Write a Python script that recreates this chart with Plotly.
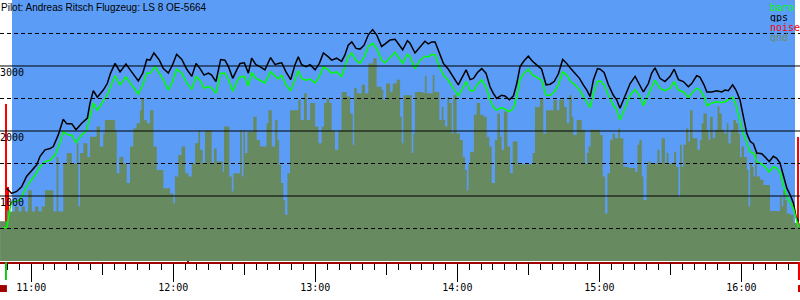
import plotly.graph_objects as go
import pandas as pd

# ---------------- data (time in minutes after 10:00, altitude in m) ----------------
t_gps = [49.6, 51.7, 53.8, 55.9, 58.0, 60.2, 62.3, 63.7, 65.8, 67.9, 69.3, 71.4, 73.5, 75.0, 77.1, 78.9,
         81.3, 83.7, 84.8, 86.2, 87.9, 90.4, 92.1, 93.5, 95.4, 97.5, 100.0, 102.4, 105.2, 107.1, 108.8,
         110.2, 111.8, 114.1, 115.8, 117.9, 119.7, 121.4, 123.6, 125.7, 127.8, 129.6,
         131.3, 133.0, 134.8, 136.2, 138.0, 140.0, 141.8, 143.3, 145.1, 146.8, 148.2, 150.0, 151.7, 153.1,
         154.9, 156.6, 158.7, 161.1, 163.0, 164.4, 165.8, 167.6, 169.6, 171.4, 172.8, 174.2, 176.1, 177.8,
         179.9, 181.7, 183.4, 185.5, 186.9, 189.0, 191.1, 192.5, 193.9, 195.4, 197.2, 198.9, 200.6, 202.4,
         204.2, 205.9, 208.0, 209.5, 211.6, 213.7,
         215.8, 216.9, 218.9, 220.0, 222.1, 224.2, 226.3, 227.7, 229.2, 230.6, 232.4, 234.1, 236.2, 238.3,
         240.4, 241.8, 243.7, 245.4, 246.8, 248.5, 250.3, 252.1, 253.8, 255.2, 256.6, 258.7, 260.1, 262.0,
         263.7, 265.1, 266.5, 268.2, 270.0, 271.8, 273.5, 275.6, 277.5, 279.2, 280.9, 282.7, 284.5, 286.2,
         287.9, 289.7, 291.6, 293.2, 294.7, 296.1, 297.5, 299.2,
         300.3, 302.0, 303.8, 305.9, 307.3, 308.7, 310.8, 313.0, 315.1, 316.9, 318.6, 320.7, 322.1, 323.5,
         325.6, 327.7, 329.9, 331.6, 333.4, 335.5, 337.6, 339.0, 341.1, 342.5, 344.2, 345.4, 347.5, 349.6,
         351.7, 353.1, 354.5, 356.3, 357.7, 359.4, 360.8, 362.3, 363.7, 365.1, 366.5, 368.6, 370.0, 371.8,
         373.5, 374.9, 376.3, 377.7, 379.2, 380.6, 382.0, 383.1, 384.1]
gps = [1120, 1040, 1070, 1140, 1300, 1400, 1480, 1610, 1710, 1730, 1760, 1940, 2180, 2110, 2110, 2020,
       2120, 2200, 2430, 2620, 2520, 2630, 2730, 2890, 3040, 2910, 3030, 2910, 2770, 2890, 3100,
       3090, 3200, 3090, 2960, 2890, 3020, 3180, 3100, 2950, 2840, 3040,
       2960, 2860, 2890, 2860, 2760, 3100, 3090, 2990, 2810, 2940, 3040, 3050, 2890, 3120,
       3020, 2990, 2940, 3130, 3020, 3040, 3050, 2910, 2790, 3020, 3140, 3020, 2990, 3020,
       2940, 3040, 3200, 3140, 3090, 3120, 3070, 3170, 3320, 3370, 3270, 3260, 3320, 3480,
       3560, 3480, 3300, 3340, 3400, 3410,
       3300, 3250, 3390, 3350, 3200, 3290, 3380, 3340, 3370, 3370, 3200, 3040, 2950, 2840,
       2710, 2810, 2940, 2790, 2810, 2900, 2960, 2890, 2680, 2580, 2500, 2550, 2540, 2480,
       2540, 2730, 2990, 3080, 3150, 3070, 3020, 2950, 2710, 2720, 2760, 2880, 3100, 3040,
       2960, 2890, 2810, 2710, 2630, 2530, 2790, 2960,
       2950, 2900, 2710, 2550, 2480, 2350, 2530, 2730, 2840, 2710, 2600, 2730, 2890, 2970,
       2810, 2760, 2840, 2950, 2790, 2760, 2680, 2730, 2850, 2830, 2710, 2600, 2600, 2620,
       2600, 2630, 2620, 2710, 2630, 2480, 2220, 1960, 1840, 1800, 1660, 1650, 1600, 1530,
       1610, 1580, 1510, 1300, 1120, 1020, 890, 680, 610]

t_baro = [48.0, 49.7, 51.5, 52.4, 55.2, 57.3, 59.5, 61.6, 63.7, 65.8, 67.9, 70.0, 72.1, 73.5, 75.7, 77.1,
          78.9, 81.3, 83.1, 84.8, 86.2, 87.9, 90.4, 92.1, 93.5, 95.4, 97.5, 100.0, 102.4, 105.2, 107.1,
          108.8, 110.2, 112.3, 114.1, 115.8, 117.9, 119.7, 121.4, 123.6, 125.7, 127.8, 129.6,
          131.3, 133.0, 134.8, 136.2, 138.0, 140.0, 141.8, 143.3, 145.1, 146.8, 148.2, 150.0, 151.7, 153.1,
          154.9, 156.6, 158.7, 161.1, 163.0, 164.4, 165.8, 167.6, 169.6, 171.4, 172.8, 174.2, 176.1, 177.8,
          179.9, 181.7, 183.4, 185.5, 186.9, 189.0, 191.1, 192.5, 193.9, 195.4, 197.2, 198.9, 200.6, 202.4,
          204.2, 205.9, 208.0, 209.5, 211.6, 213.7,
          215.8, 216.9, 218.9, 220.0, 222.1, 224.2, 226.3, 227.7, 229.2, 230.6, 232.4, 234.1, 236.2, 238.3,
          240.4, 241.8, 243.7, 245.4, 246.8, 248.5, 250.3, 252.1, 253.8, 255.2, 256.6, 258.7, 260.1, 262.0,
          263.7, 265.1, 266.5, 268.2, 270.0, 271.8, 273.5, 275.6, 277.5, 279.2, 280.9, 282.7, 284.5, 286.2,
          287.9, 289.7, 291.6, 293.2, 294.7, 296.1, 297.5, 299.2,
          300.3, 302.0, 303.8, 305.9, 307.3, 308.7, 310.8, 313.0, 315.1, 316.9, 318.6, 320.7, 322.1, 323.5,
          325.6, 327.7, 329.9, 331.6, 333.4, 335.5, 337.6, 339.0, 341.1, 342.5, 344.2, 345.4, 347.5, 349.6,
          351.7, 353.1, 354.5, 356.3, 357.7, 359.4, 360.8, 362.3, 363.7, 365.1, 366.5, 368.6, 370.0, 371.8,
          373.5, 374.9, 376.3, 377.7, 379.2, 380.6, 382.0, 383.1, 384.1]
baro = [510, 520, 900, 910, 940, 1090, 1220, 1320, 1450, 1530, 1550, 1630, 1810, 1990, 1940, 1940,
        1820, 1940, 1990, 2220, 2430, 2320, 2450, 2550, 2680, 2850, 2710, 2830, 2710, 2570, 2710,
        2890, 2890, 2990, 2890, 2790, 2630, 2760, 2950, 2890, 2740, 2640, 2840,
        2780, 2660, 2680, 2660, 2580, 2890, 2890, 2790, 2610, 2760, 2830, 2840, 2690, 2900,
        2810, 2780, 2740, 2910, 2840, 2800, 2860, 2710, 2620, 2810, 2930, 2810, 2780, 2800,
        2740, 2840, 2990, 2940, 2890, 2910, 2840, 2990, 3140, 3200, 3090, 3040, 3140, 3300,
        3350, 3270, 3090, 3050, 3130, 3210,
        3100, 3040, 3180, 3140, 2960, 3090, 3150, 3140, 3180, 3170, 2990, 2860, 2780, 2660,
        2540, 2630, 2760, 2620, 2620, 2720, 2790, 2680, 2480, 2370, 2320, 2360, 2330, 2300,
        2350, 2530, 2790, 2890, 2950, 2860, 2830, 2780, 2550, 2550, 2600, 2710, 2910, 2860,
        2760, 2710, 2630, 2540, 2450, 2360, 2580, 2760,
        2770, 2710, 2550, 2400, 2330, 2170, 2350, 2550, 2640, 2550, 2390, 2550, 2680, 2780,
        2660, 2620, 2660, 2760, 2630, 2600, 2520, 2570, 2660, 2630, 2530, 2390, 2430, 2450,
        2440, 2450, 2480, 2520, 2400, 2170, 1960, 1810, 1680, 1660, 1530, 1490, 1450, 1370,
        1450, 1430, 1370, 1170, 990, 900, 810, 660, 520]

t_gnd = [46.8, 49.6, 51.0, 53.1, 54.5, 55.9, 57.3, 58.7, 60.2, 61.6, 63.0, 64.4, 65.8, 69.3, 70.7, 71.4,
         73.5, 75.0, 77.1, 79.2, 79.9, 80.6, 82.0, 83.7, 84.8, 87.6, 89.0, 90.4, 91.1, 95.4, 96.1, 97.2,
         98.9, 100.3, 101.7, 103.1, 104.5, 105.9, 106.6, 107.6, 108.8, 110.2, 111.6, 113.0, 115.8, 118.6,
         120.0, 120.7, 122.1, 123.5, 125.0, 126.4, 127.8, 129.2, 130.6,
         131.3, 132.4, 133.4, 136.2, 137.2, 138.3, 140.9, 141.4, 143.7, 144.7, 145.4, 148.2, 148.9, 149.6,
         150.3, 151.3, 153.8, 155.2, 156.6, 159.4, 160.2, 161.6, 163.0, 164.0, 164.7, 165.5, 166.5, 167.2,
         168.2, 169.3, 172.8, 173.8, 175.2, 176.4, 177.8, 179.9, 181.3, 182.7, 183.7, 184.8, 185.9, 186.9,
         188.3, 189.7, 191.1, 193.3, 194.7, 195.8, 196.4, 197.5, 199.6, 201.0, 202.4, 204.5, 205.9, 208.0,
         208.7, 209.9, 211.6, 212.7, 214.4,
         215.8, 216.5, 217.2, 220.7, 221.4, 222.1, 225.6, 226.3, 227.0, 229.6, 230.3, 232.4, 233.4, 234.1,
         234.8, 235.8, 236.6, 237.6, 238.3, 239.7, 241.1, 242.3, 243.2, 244.0, 244.7, 245.4, 247.0, 248.2,
         249.6, 251.0, 252.4, 253.5, 254.5, 255.9, 256.9, 258.0, 258.7, 259.7, 261.1, 262.3, 263.4, 265.4,
         271.8, 272.8, 274.9, 276.3, 277.5, 280.6, 282.0, 283.1, 285.1, 286.2, 287.3, 288.3, 289.0, 290.4,
         292.5, 293.9, 294.7, 295.4, 296.3,
         300.3, 301.4, 302.4, 303.4, 304.5, 305.6, 306.6, 308.0, 308.7, 310.1, 312.3, 315.1, 316.1, 316.9,
         317.9, 318.6, 320.0, 320.7, 321.7, 324.5, 325.4, 326.3, 327.7, 328.4, 329.2, 331.6, 332.4, 333.4,
         334.1, 334.8, 335.5, 336.6, 337.6, 338.3, 339.4, 341.4, 342.5, 343.2, 344.0, 345.4, 346.1, 346.8,
         347.9, 348.9, 349.9, 350.7, 351.7, 352.7, 353.8, 354.5, 355.5, 356.6, 357.7, 358.7, 359.4, 360.1,
         361.1, 362.3, 363.0, 363.7, 364.4, 365.1, 365.8, 366.5, 367.9, 369.3, 372.1, 376.3, 377.0, 377.7,
         378.5, 379.2, 380.6, 382.0, 383.4, 384.8]
gnd = [610, 780, 760, 840, 760, 840, 760, 1090, 760, 840, 760, 840, 1090, 760, 1600, 760,
       1500, 1660, 1500, 1810, 840, 1660, 1810, 1600, 1910, 2070, 1760, 1960, 2170, 2010, 1350, 1600,
       1500, 1200, 1760, 2040, 2120, 2320, 2500, 2170, 2120, 2320, 1760, 1400, 1120, 1040,
       890, 1300, 1630, 1760, 1350, 1300, 1500, 1810, 2010,
       1710, 1500, 2010, 1500, 1730, 1530, 1370, 2070, 1300, 1070, 1350, 2010, 1300, 2010,
       1660, 1990, 2220, 1860, 1760, 2120, 2320, 1760, 2170, 1860, 1480, 1200, 940, 710,
       1350, 2320, 2480, 2170, 2580, 2170, 2430, 2070, 1810, 2070, 2430, 2500, 2430, 2010,
       1710, 2010, 2600, 2530, 2270, 1790, 2660, 2580, 2710, 2580, 3040, 3120, 2680, 2630,
       2480, 2730, 2600, 2730, 2790,
       2220, 1810, 2550, 1660, 1960, 2600, 2580, 2850, 2580, 2860, 2600, 2170, 2370, 2170,
       2070, 2520, 2430, 1960, 2550, 1960, 1860, 1600, 1400, 1090, 1500, 1680, 2250, 2430,
       2250, 2220, 1910, 1760, 1200, 1860, 2270, 1910, 1710, 2300, 1760, 1350, 1840, 1490,
       1660, 2370, 2500, 1960, 2320, 2480, 2320, 2480, 2370, 2120, 2550, 2220, 1940, 2170,
       2020, 1500, 1660, 1760, 2020,
       1940, 1300, 730, 1350, 1860, 1960, 1890, 2040, 1890, 1450, 1430, 1370, 1790, 1860,
       1300, 940, 1480, 1530, 1500, 1710, 1500, 1890, 1480, 1660, 1500, 1680, 1450, 990,
       1790, 1450, 1790, 2040, 1840, 2320, 1890, 1710, 1860, 2120, 2270, 2020, 1860, 2220,
       1890, 2020, 2380, 2270, 2020, 1960, 2120, 1810, 2020, 2170, 2120, 1960, 1600, 1760,
       1600, 1400, 840, 1500, 1450, 1300, 1660, 1300, 1250, 1170, 770, 990, 840, 1090,
       940, 730, 710, 590, 580, 580]

noise_start = [47.5, 48.2, 49.3, 49.75, 50.7, 65.0, 71.3, 78.9, 90.3, 103.3, 116.4, 126.1, 165.5, 232.2,
               353.9, 364.4, 376.1, 376.9, 377.7, 378.1, 378.5, 378.9, 379.3, 383.9, 384.2]
noise_end = [48.2, 48.9, 49.75, 50.7, 51.0, 65.8, 71.7, 79.3, 90.7, 103.7, 116.8, 126.5, 165.9, 232.6,
             354.3, 364.8, 376.5, 377.3, 378.1, 378.5, 378.9, 379.3, 379.7, 384.2, 384.8]
noise = [220, 400, 2415, 1140, 150, 130, 40, 140, 40, 90, 40, 30, 100, 100,
         40, 50, 80, 120, 170, 200, 130, 210, 60, 1910, 250]

takeoff_min = 49.3
landing_min = 384.2
sky_start_min = 51.85
sky_end_min = 382.66
x_range_min = [46.78, 384.76]
alt_range = [-15, 4015]
solid_levels = [1000, 2000, 3000]
dashed_levels = [500, 1500, 2500, 3500]
title_text = "Pilot: Andreas Ritsch Flugzeug: LS 8 OE-5664"
legend_items = [("baro", "#00ff00"), ("gps", "#000000"), ("noise", "#ff0000"), ("gnd", "#6c8c64")]

# ---------------- helpers ----------------
BASE = pd.Timestamp("2000-01-01 10:00:00")


def T(m):
    return BASE + pd.Timedelta(minutes=m)


def TL(lst):
    return [T(v) for v in lst]


SKY = "#5b9cf6"
GND = "#678a61"
DARKRED = "#a00000"
MONO = "DejaVu Sans Mono"

fig = go.Figure()

fig.add_trace(go.Scatter(x=TL(t_gnd), y=gnd, mode="lines", line=dict(width=0, shape="hv"),
                         fill="tozeroy", fillcolor=GND, hoverinfo="skip"))

centers = [T((a + b) / 2) for a, b in zip(noise_start, noise_end)]
widths = [(b - a) * 60000 for a, b in zip(noise_start, noise_end)]
colors = ["#ff0000" if h > 1000 else DARKRED for h in noise]
fig.add_trace(go.Bar(x=centers, y=noise, width=widths, marker=dict(color=colors, line=dict(width=0))))

fig.add_trace(go.Scatter(x=TL(t_baro), y=baro, mode="lines", line=dict(color="#00ff00", width=1.5),
                         xaxis="x2"))
fig.add_trace(go.Scatter(x=TL(t_gps), y=gps, mode="lines", line=dict(color="#000000", width=1.5)))

shapes = [dict(type="rect", xref="x", yref="y", x0=T(sky_start_min), x1=T(sky_end_min),
               y0=0, y1=alt_range[1], fillcolor=SKY, line=dict(width=0), layer="below")]
for v in solid_levels:
    shapes.append(dict(type="line", xref="paper", yref="y", x0=0, x1=1, y0=v, y1=v,
                       line=dict(color="black", width=1), layer="above"))
for v in dashed_levels:
    shapes.append(dict(type="line", xref="paper", yref="y", x0=0, x1=1, y0=v, y1=v,
                       line=dict(color="black", width=1, dash="4px,3px"), layer="above"))
# start / end markers below the axis
shapes.append(dict(type="rect", xref="x", yref="paper", x0=T(takeoff_min - 0.4), x1=T(takeoff_min + 0.4),
                   y0=0, y1=-0.0687, fillcolor="#00cc00", line=dict(width=0)))
shapes.append(dict(type="rect", xref="x", yref="paper", x0=T(x_range_min[0]), x1=T(takeoff_min + 0.4),
                   y0=-0.088, y1=-0.1145, fillcolor=DARKRED, line=dict(width=0)))
shapes.append(dict(type="rect", xref="x", yref="paper", x0=T(landing_min - 0.3), x1=T(x_range_min[1]),
                   y0=0, y1=-0.0687, fillcolor="#ee0000", line=dict(width=0)))
shapes.append(dict(type="rect", xref="x", yref="paper", x0=T(landing_min - 0.3), x1=T(x_range_min[1]),
                   y0=-0.088, y1=-0.1145, fillcolor="#cc0000", line=dict(width=0)))

annotations = [dict(xref="paper", yref="paper", x=0, y=1, xanchor="left", yanchor="top", showarrow=False,
                    text=title_text, font=dict(family="Liberation Sans", size=10, color="black"),
                    borderpad=0, yshift=-1)]
for v in solid_levels:
    annotations.append(dict(xref="paper", yref="y", x=0, y=v, xanchor="left", yanchor="middle",
                            yshift=-6.5, xshift=-1, showarrow=False, text=str(v), borderpad=0,
                            font=dict(family=MONO, size=10, color="black")))
for i, (name, col) in enumerate(legend_items):
    annotations.append(dict(xref="paper", yref="paper", x=769 / 800, y=1 - (7 + 10 * i) / 262,
                            xanchor="left", yanchor="middle", showarrow=False, text=name, borderpad=0,
                            height=10, valign="middle",
                            font=dict(family=MONO, size=10, color=col)))

xr = [T(x_range_min[0]), T(x_range_min[1])]
fig.update_layout(
    width=800, height=300, autosize=False,
    margin=dict(l=0, r=0, t=0, b=38, pad=0),
    paper_bgcolor="white", plot_bgcolor="white",
    showlegend=False, bargap=0,
    shapes=shapes, annotations=annotations,
    xaxis=dict(type="date", range=xr, tickmode="linear", tick0=T(60), dtick=3600000,
               tickformat="%H:%M", ticks="outside", ticklen=18, tickwidth=1, tickcolor="black",
               ticklabelstandoff=-3,
               showgrid=False, zeroline=False, showline=True, linecolor=DARKRED, linewidth=2,
               tickfont=dict(family=MONO, size=10, color="black"),
               minor=dict(ticks="outside", ticklen=6, tickwidth=1, tickcolor="black",
                          dtick=300000, tick0=T(60), showgrid=False)),
    xaxis2=dict(type="date", range=xr, overlaying="x", anchor="y", side="bottom",
                tickmode="linear", tick0=T(30), dtick=3600000, ticks="outside", ticklen=12,
                tickwidth=1, tickcolor="black", showticklabels=False, showgrid=False,
                zeroline=False, showline=False),
    yaxis=dict(range=alt_range, visible=False, showgrid=False, zeroline=False),
)

fig.write_html("out.html")
